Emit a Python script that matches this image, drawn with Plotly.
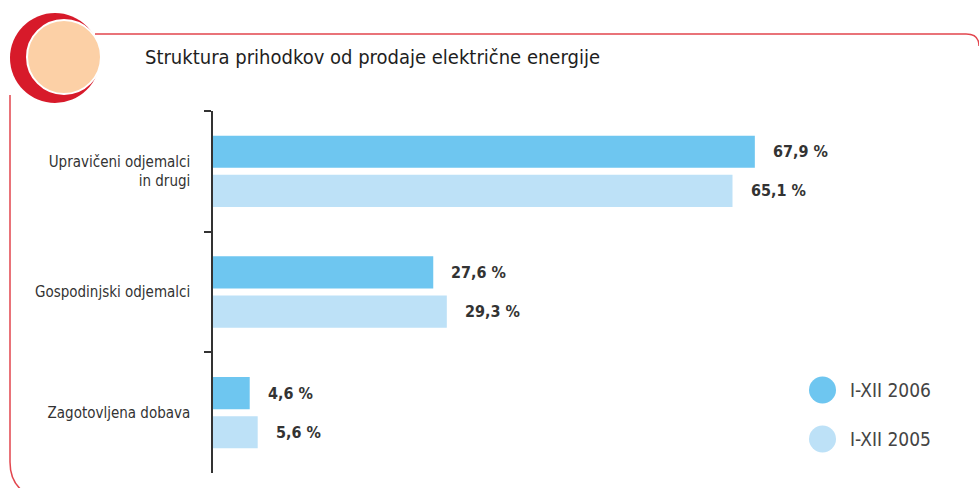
import plotly.graph_objects as go

categories = ["Upravičeni odjemalci<br>in drugi", "Gospodinjski odjemalci", "Zagotovljena dobava"]
series_names = ["I-XII 2006", "I-XII 2005"]
values_2006 = [67.9, 27.6, 4.6]
values_2005 = [65.1, 29.3, 5.6]
title_text = "Struktura prihodkov od prodaje električne energije"

colors = ["#6ec6f0", "#bde1f7"]
FONT = "DejaVu Sans Condensed, Liberation Sans Narrow, sans-serif"

W, H = 979, 488
# plot area in pixels
L, R, T, B = 213, 971, 111, 473


def PX(x):
    return (x - L) / (R - L)


def PY(y):
    return (B - y) / (B - T)


fig = go.Figure()
for name, vals, col in zip(series_names, [values_2006, values_2005], colors):
    fig.add_trace(go.Bar(y=categories, x=vals, orientation="h", name=name,
                         marker=dict(color=col, line=dict(width=0)),
                         showlegend=False, hoverinfo="x+y"))

# value labels
offsets = [-0.1625, 0.1625]
annotations = []
for vals, off in zip([values_2006, values_2005], offsets):
    for i, v in enumerate(vals):
        annotations.append(dict(x=v, y=i + off, xref="x", yref="y",
                                text=f"{v:.1f} %".replace(".", ","),
                                showarrow=False, xanchor="left", xshift=16,
                                font=dict(family=FONT, size=16, color="#333333", weight="bold")))

# title
annotations.append(dict(x=PX(143), y=PY(57), xref="paper", yref="paper", text=title_text,
                        showarrow=False, xanchor="left", yanchor="middle",
                        font=dict(family=FONT, size=20, color="#1e1e1e")))

shapes = []
# legend drawn as circles + text
leg_y = [390, 439]
for name, col, yy in zip(series_names, colors, leg_y):
    shapes.append(dict(type="circle", xref="paper", yref="paper",
                       x0=PX(809), x1=PX(836), y0=PY(yy + 13.5), y1=PY(yy - 13.5),
                       fillcolor=col, line=dict(width=0), layer="above"))
    annotations.append(dict(x=PX(848), y=PY(yy), xref="paper", yref="paper", text=name,
                            showarrow=False, xanchor="left", yanchor="middle",
                            font=dict(family=FONT, size=19, color="#444444")))

# decorative frame
frame_col = "#e2464e"
shapes.append(dict(type="path", xref="paper", yref="paper",
                   path=(f"M {PX(95)},{PY(34)} L {PX(966)},{PY(34)} "
                         f"Q {PX(979)},{PY(34)} {PX(979)},{PY(46)}"),
                   line=dict(color=frame_col, width=1.5)))
shapes.append(dict(type="path", xref="paper", yref="paper",
                   path=(f"M {PX(10)},{PY(95)} L {PX(10)},{PY(462)} "
                         f"Q {PX(10)},{PY(482)} {PX(24)},{PY(492)}"),
                   line=dict(color=frame_col, width=1.5)))
# red crescent circle
shapes.append(dict(type="circle", xref="paper", yref="paper",
                   x0=PX(10), x1=PX(100), y0=PY(103), y1=PY(13),
                   fillcolor="#d71a2a", line=dict(width=0)))
shapes.append(dict(type="circle", xref="paper", yref="paper",
                   x0=PX(27), x1=PX(101), y0=PY(94), y1=PY(20),
                   fillcolor="#fcd0a6", line=dict(color="white", width=2)))

fig.update_layout(
    width=W, height=H,
    margin=dict(l=L, r=W - R, t=T, b=H - B),
    plot_bgcolor="white", paper_bgcolor="white",
    barmode="group", bargap=0.35, bargroupgap=0.18,
    xaxis=dict(range=[0, (R - L) / 7.98], visible=False, fixedrange=True),
    yaxis=dict(categoryorder="array", categoryarray=categories, range=[2.5, -0.5],
               showline=True, linecolor="#333333", linewidth=1.5,
               ticks="outside", tickson="boundaries", ticklen=7, tickcolor="#333333", tickwidth=1.5,
               showgrid=False, ticklabelstandoff=18, fixedrange=True,
               tickfont=dict(family=FONT, size=15, color="#333333")),
    font=dict(family=FONT),
    annotations=annotations, shapes=shapes,
)

fig.write_html("out.html", config={"displayModeBar": False},
               post_script="document.body.style.margin='0';document.body.style.overflow='hidden';")
